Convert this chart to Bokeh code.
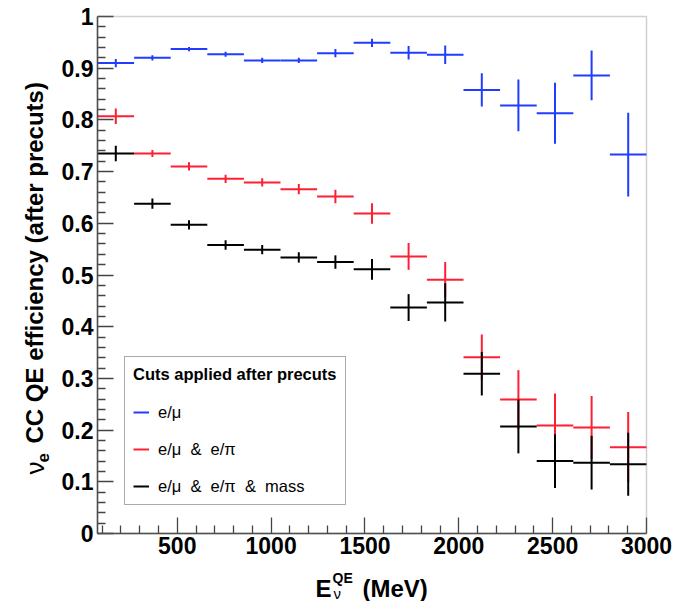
import math
from bokeh.plotting import figure
from bokeh.models import (BoxAnnotation, ColumnDataSource, FixedTicker, Label,
                          Legend, LegendItem, Range1d)
from bokeh.embed import file_html
from bokeh.resources import INLINE

# ---------------- data ----------------
bin_centers = [172.5, 367.5, 562.5, 757.5, 952.5, 1147.5, 1342.5, 1537.5,
               1732.5, 1927.5, 2122.5, 2317.5, 2512.5, 2707.5, 2902.5]
bin_half_width = 97.5

blue_y = [0.910, 0.920, 0.937, 0.927, 0.915, 0.915, 0.929, 0.949,
          0.930, 0.926, 0.858, 0.828, 0.813, 0.886, 0.733]
blue_err = [0.008, 0.005, 0.004, 0.005, 0.005, 0.005, 0.008, 0.008,
            0.013, 0.018, 0.032, 0.050, 0.059, 0.048, 0.081]

red_y = [0.807, 0.735, 0.710, 0.686, 0.679, 0.666, 0.652, 0.619,
         0.536, 0.491, 0.341, 0.259, 0.209, 0.205, 0.167]
red_err = [0.015, 0.007, 0.008, 0.008, 0.008, 0.010, 0.013, 0.020,
           0.026, 0.034, 0.044, 0.057, 0.062, 0.061, 0.068]

black_y = [0.735, 0.638, 0.597, 0.558, 0.549, 0.534, 0.525, 0.511,
           0.437, 0.447, 0.309, 0.207, 0.140, 0.137, 0.134]
black_err = [0.015, 0.010, 0.009, 0.009, 0.009, 0.010, 0.013, 0.020,
             0.026, 0.037, 0.042, 0.052, 0.052, 0.052, 0.061]

series_labels = ["e/μ", "e/μ  &  e/π", "e/μ  &  e/π  &  mass"]
series_colors = ["#1f3cff", "#ff1f33", "#000000"]

x_ticks = [500, 1000, 1500, 2000, 2500, 3000]
x_minor = [m for m in range(100, 3000, 100) if m % 500 != 0]
y_ticks = [0.0, 0.1, 0.2, 0.3, 0.4, 0.5, 0.6, 0.7, 0.8, 0.9, 1.0]
y_minor = [round(0.02 * k, 2) for k in range(1, 50) if k % 5 != 0]

X0, X1 = 75, 3000
Y0, Y1 = 0.0, 1.0

# ---------------- geometry: plot area inside a full-canvas frame ----------------
W, H = 677, 601
AL, AR, AT, AB = 97, 646, 16, 533          # plot-area edges in pixels
sx = (X1 - X0) / (AR - AL)                 # data per pixel
sy = (Y1 - Y0) / (AB - AT)


def dx(px):
    return X0 + (px - AL) * sx


def dy(py):
    return Y0 + (AB - py) * sy


p = figure(width=W, height=H, output_backend="svg", toolbar_location=None,
           x_range=Range1d(dx(0), dx(W)), y_range=Range1d(dy(H), dy(0)),
           min_border_left=0, min_border_right=0,
           min_border_top=0, min_border_bottom=0)
p.background_fill_color = "white"
p.border_fill_color = "white"
p.xgrid.visible = False
p.ygrid.visible = False
p.outline_line_color = None

# frame box of the plot area (top and right edges in grey)
p.add_layout(BoxAnnotation(left=X0, right=X1, bottom=Y0, top=Y1,
                           fill_alpha=0, line_color="#666666", line_width=1.5))

tick_font = "Liberation Sans"
for ax in (p.xaxis[0], p.yaxis[0]):
    ax.axis_line_color = "#444444"
    ax.axis_line_width = 1.5
    ax.major_tick_line_color = "#444444"
    ax.minor_tick_line_color = "#444444"
    ax.major_tick_line_width = 1.3
    ax.minor_tick_line_width = 1.3
    ax.major_label_text_font = tick_font
    ax.major_label_text_font_style = "bold"
    ax.major_label_text_font_size = "23px"
    ax.major_label_text_color = "black"

p.xaxis.fixed_location = Y0
p.xaxis.bounds = (X0, X1)
p.xaxis.ticker = FixedTicker(ticks=x_ticks, minor_ticks=x_minor)
p.xaxis.major_tick_in = 16
p.xaxis.major_tick_out = 0
p.xaxis.minor_tick_in = 8
p.xaxis.minor_tick_out = 0
p.xaxis.major_label_standoff = 3

p.yaxis.fixed_location = X0
p.yaxis.bounds = (Y0, Y1)
p.yaxis.ticker = FixedTicker(ticks=y_ticks, minor_ticks=y_minor)
p.yaxis.major_tick_in = 16
p.yaxis.major_tick_out = 0
p.yaxis.minor_tick_in = 8
p.yaxis.minor_tick_out = 0
p.yaxis.major_label_standoff = 4
p.yaxis.major_label_overrides = {0.0: "0", 1.0: "1"}

# ---------------- error-bar crosses ----------------
renderers = []
for ys, errs, col in [(blue_y, blue_err, series_colors[0]),
                      (red_y, red_err, series_colors[1]),
                      (black_y, black_err, series_colors[2])]:
    x0 = [c - bin_half_width for c in bin_centers] + list(bin_centers)
    x1 = [c + bin_half_width for c in bin_centers] + list(bin_centers)
    y0 = list(ys) + [y - e for y, e in zip(ys, errs)]
    y1 = list(ys) + [y + e for y, e in zip(ys, errs)]
    src = ColumnDataSource(dict(x0=x0, x1=x1, y0=y0, y1=y1))
    r = p.segment(x0="x0", y0="y0", x1="x1", y1="y1", source=src,
                  line_color=col, line_width=2)
    renderers.append(r)

# ---------------- legend ----------------
legend = Legend(items=[LegendItem(label=lab, renderers=[r])
                       for lab, r in zip(series_labels, renderers)],
                location=(124, H - 505),
                title="Cuts applied after precuts",
                title_text_font=tick_font, title_text_font_style="bold",
                title_text_font_size="16.5px", title_standoff=18,
                title_text_color="black",
                label_text_font=tick_font, label_text_font_size="16.5px",
                label_text_color="black",
                glyph_width=16, glyph_height=20, label_height=20,
                label_standoff=9, spacing=17, padding=8, margin=0,
                border_line_color="#555555", border_line_width=1.5,
                background_fill_color="white", background_fill_alpha=1.0)
p.add_layout(legend)


# ---------------- axis titles ----------------
def lab(x, y, text, size, bold=True, angle=0.0):
    p.add_layout(Label(x=dx(x), y=dy(y), text=text, angle=angle,
                       text_align="left", text_baseline="alphabetic",
                       text_font=tick_font, text_font_size=size,
                       text_font_style="bold" if bold else "normal",
                       text_color="black"))


# y title: nu_e CC QE efficiency (after precuts)
lab(34, 474, "ν", "26px", bold=False, angle=math.pi / 2)
lab(42, 462, "e", "17px", bold=True, angle=math.pi / 2)
lab(34, 443, "CC QE efficiency (after precuts)", "24px", angle=math.pi / 2)

# x title: E_nu^QE (MeV)
lab(315, 588, "E", "24px")
lab(332, 577, "QE", "14px")
lab(333, 593, "ν", "15px", bold=False)
lab(362, 588, "(MeV)", "24px")

open("out.html", "w").write(file_html(p, INLINE))
